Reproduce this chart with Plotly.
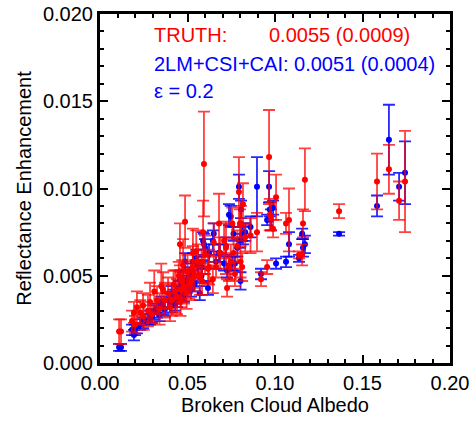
import plotly.graph_objects as go

# Broken cloud albedo (shared by both series)
albedo = [0.1366, 0.1583, 0.1651, 0.1709, 0.1743, 0.1171, 0.1160, 0.1155, 0.1137, 0.1063,
          0.1080, 0.0966, 0.1006, 0.0989, 0.0977, 0.0955, 0.0970, 0.0897, 0.0920, 0.0794,
          0.0806, 0.0817, 0.0800, 0.0803, 0.0812, 0.0771, 0.0747, 0.0726, 0.0756, 0.0763,
          0.0737, 0.0589, 0.0594, 0.0645, 0.0680, 0.0709, 0.0623, 0.0663, 0.0617, 0.0583,
          0.0686, 0.0486, 0.0457, 0.0531, 0.0462, 0.0109, 0.0120, 0.0183, 0.0194, 0.0211,
          0.0246, 0.0274, 0.0286, 0.0297, 0.0326, 0.0340, 0.0371, 0.0389, 0.0400, 0.0420,
          0.0440, 0.0450, 0.0460, 0.0470, 0.0480, 0.0500, 0.0510, 0.0530, 0.0540, 0.0560,
          0.0570, 0.0250, 0.0360, 0.0430, 0.0475, 0.0495, 0.0520, 0.0550, 0.0310, 0.0350,
          0.0410, 0.0580, 0.0200, 0.0230, 0.0650, 0.0720, 0.0600, 0.0785, 0.0860, 0.0830]

# TRUTH reflectance enhancement and its uncertainty
truth_y = [0.0087, 0.0104, 0.0111, 0.0093, 0.0104, 0.0105, 0.0080, 0.0062, 0.0062, 0.0080,
           0.0082, 0.0118, 0.0095, 0.0077, 0.0084, 0.0055, 0.0085, 0.0075, 0.0048, 0.0098,
           0.0080, 0.0091, 0.0080, 0.0058, 0.0055, 0.0051, 0.0058, 0.0043, 0.0080, 0.0063,
           0.0055, 0.0075, 0.0114, 0.0048, 0.0080, 0.0070, 0.0055, 0.0055, 0.0054, 0.0047,
           0.0063, 0.0081, 0.0068, 0.0063, 0.0042, 0.0018, 0.0018, 0.0024, 0.0029, 0.0032,
           0.0033, 0.0030, 0.0035, 0.0028, 0.0036, 0.0031, 0.0036, 0.0040, 0.0032, 0.0045,
           0.0038, 0.0050, 0.0035, 0.0047, 0.0044, 0.0052, 0.0045, 0.0055, 0.0050, 0.0058,
           0.0049, 0.0027, 0.0042, 0.0041, 0.0056, 0.0040, 0.0047, 0.0064, 0.0041, 0.0044,
           0.0036, 0.0058, 0.0022, 0.0029, 0.0069, 0.0066, 0.0062, 0.0067, 0.0073, 0.0072]
truth_err = [0.0004, 0.0016, 0.0014, 0.0011, 0.0029, 0.0018, 0.0008, 0.0006, 0.0002, 0.0006,
             0.0018, 0.0027, 0.0013, 0.0005, 0.0008, 0.0004, 0.0009, 0.0011, 0.0004, 0.0020,
             0.0010, 0.0012, 0.0008, 0.0009, 0.0008, 0.0007, 0.0010, 0.0005, 0.0009, 0.0009,
             0.0008, 0.0018, 0.0030, 0.0008, 0.0017, 0.0010, 0.0010, 0.0006, 0.0008, 0.0008,
             0.0009, 0.0015, 0.0012, 0.0014, 0.0010, 0.0007, 0.0007, 0.0006, 0.0006, 0.0009,
             0.0007, 0.0009, 0.0011, 0.0005, 0.0008, 0.0009, 0.0010, 0.0009, 0.0008, 0.0008,
             0.0010, 0.0008, 0.0008, 0.0012, 0.0010, 0.0010, 0.0008, 0.0012, 0.0009, 0.0010,
             0.0010, 0.0008, 0.0010, 0.0012, 0.0015, 0.0009, 0.0011, 0.0012, 0.0012, 0.0013,
             0.0009, 0.0007, 0.0005, 0.0007, 0.0011, 0.0015, 0.0011, 0.0009, 0.0010, 0.0008]

# 2LM+CSI+CAI estimate and its uncertainty
model_y = [0.0074, 0.0090, 0.0128, 0.0101, 0.0109, 0.0068, 0.0066, 0.0074, 0.0060, 0.0058,
           0.0068, 0.0101, 0.0057, 0.0089, 0.0082, 0.0082, 0.0088, 0.0101, 0.0051, 0.0101,
           0.0088, 0.0074, 0.0070, 0.0047, 0.0074, 0.0057, 0.0084, 0.0053, 0.0057, 0.0074,
           0.0085, 0.0070, 0.0068, 0.0070, 0.0063, 0.0057, 0.0063, 0.0058, 0.0043, 0.0055,
           0.0063, 0.0058, 0.0048, 0.0058, 0.0040, 0.0009, 0.0009, 0.0019, 0.0016, 0.0020,
           0.0023, 0.0025, 0.0026, 0.0027, 0.0030, 0.0028, 0.0031, 0.0036, 0.0033, 0.0038,
           0.0036, 0.0043, 0.0042, 0.0045, 0.0039, 0.0048, 0.0050, 0.0052, 0.0045, 0.0056,
           0.0040, 0.0025, 0.0032, 0.0034, 0.0047, 0.0044, 0.0042, 0.0060, 0.0029, 0.0034,
           0.0040, 0.0050, 0.0019, 0.0022, 0.0074, 0.0067, 0.0066, 0.0066, 0.0078, 0.0075]
model_err = [0.0001, 0.0006, 0.0020, 0.0008, 0.0018, 0.0005, 0.0005, 0.0003, 0.0002, 0.0003,
             0.0007, 0.0009, 0.0003, 0.0004, 0.0006, 0.0003, 0.0004, 0.0017, 0.0003, 0.0007,
             0.0005, 0.0006, 0.0004, 0.0005, 0.0004, 0.0004, 0.0006, 0.0004, 0.0004, 0.0004,
             0.0006, 0.0005, 0.0006, 0.0006, 0.0005, 0.0004, 0.0005, 0.0004, 0.0004, 0.0004,
             0.0005, 0.0005, 0.0005, 0.0005, 0.0004, 0.0002, 0.0002, 0.0003, 0.0003, 0.0003,
             0.0003, 0.0003, 0.0004, 0.0004, 0.0004, 0.0004, 0.0004, 0.0004, 0.0004, 0.0004,
             0.0004, 0.0004, 0.0005, 0.0005, 0.0004, 0.0005, 0.0005, 0.0005, 0.0004, 0.0005,
             0.0004, 0.0003, 0.0004, 0.0004, 0.0005, 0.0004, 0.0004, 0.0005, 0.0004, 0.0004,
             0.0004, 0.0004, 0.0003, 0.0003, 0.0006, 0.0005, 0.0005, 0.0005, 0.0006, 0.0005]

x_ticks = [0.00, 0.05, 0.10, 0.15, 0.20]
y_ticks = [0.000, 0.005, 0.010, 0.015, 0.020]

FONT = "Liberation Sans, Arial, Helvetica, sans-serif"
FS = 20

fig = go.Figure()
fig.add_trace(go.Scatter(
    x=albedo, y=model_y, mode="markers",
    marker=dict(color="#0000ff", size=6),
    error_y=dict(type="data", array=model_err, color="rgba(0,0,255,0.85)", thickness=1.8, width=6),
    showlegend=False,
))
fig.add_trace(go.Scatter(
    x=albedo, y=truth_y, mode="markers",
    marker=dict(color="#ff0000", size=6),
    error_y=dict(type="data", array=truth_err, color="rgba(255,0,0,0.75)", thickness=1.8, width=6),
    showlegend=False,
))

axis_common = dict(
    showline=True, linecolor="black", linewidth=3, mirror="ticks",
    ticks="inside", ticklen=8, tickwidth=2, tickcolor="black",
    showgrid=False, zeroline=False, automargin=False,
    tickfont=dict(family=FONT, size=FS, color="black"),
)
fig.update_xaxes(
    range=[0, 0.20], tickvals=x_ticks, ticktext=[f"{v:.2f}" for v in x_ticks],
    minor=dict(dtick=0.01, ticks="inside", ticklen=4, tickwidth=2, tickcolor="black"),
    title=dict(text="Broken Cloud Albedo", font=dict(family=FONT, size=FS, color="black"), standoff=2),
    **axis_common,
)
fig.update_yaxes(
    range=[0, 0.020], tickvals=y_ticks, ticktext=[f"{v:.3f}" for v in y_ticks],
    minor=dict(dtick=0.001, ticks="inside", ticklen=4, tickwidth=2, tickcolor="black"),
    title=dict(text="Reflectance Enhancement", font=dict(family=FONT, size=FS, color="black"), standoff=6),
    **axis_common,
)

ann_font = dict(family=FONT, size=FS)
fig.add_annotation(x=0.149, y=0.941, xref="paper", yref="paper", xanchor="left", yanchor="middle",
                   text="TRUTH:", showarrow=False, font=dict(color="#ff0000", **ann_font))
fig.add_annotation(x=0.477, y=0.941, xref="paper", yref="paper", xanchor="left", yanchor="middle",
                   text="0.0055 (0.0009)", showarrow=False, font=dict(color="#ff0000", **ann_font))
fig.add_annotation(x=0.149, y=0.858, xref="paper", yref="paper", xanchor="left", yanchor="middle",
                   text="2LM+CSI+CAI: 0.0051 (0.0004)", showarrow=False, font=dict(color="#0000ff", **ann_font))
fig.add_annotation(x=0.149, y=0.779, xref="paper", yref="paper", xanchor="left", yanchor="middle",
                   text="ε = 0.2", showarrow=False, font=dict(color="#0000ff", **ann_font))

fig.update_layout(
    width=475, height=421,
    margin=dict(l=100, r=25, t=14, b=58),
    paper_bgcolor="white", plot_bgcolor="white",
    font=dict(family=FONT, color="black"),
)

fig.write_html("out.html")
